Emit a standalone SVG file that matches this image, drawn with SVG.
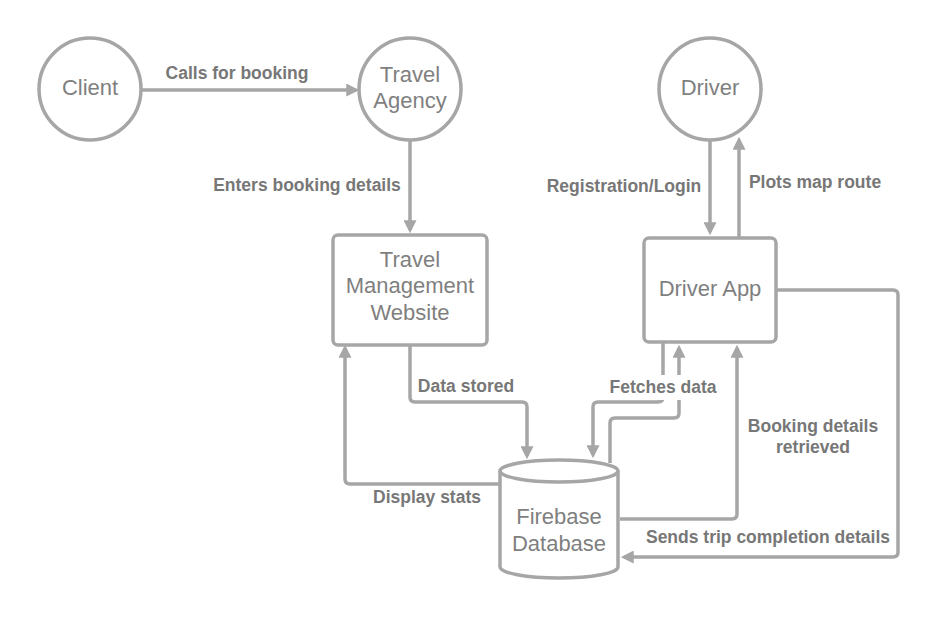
<svg xmlns="http://www.w3.org/2000/svg" width="942" height="620" viewBox="0 0 942 620">
<style>
.shape{fill:#fff;stroke:#a6a6a6;stroke-width:3.5}
.ntext{font-family:"Liberation Sans",Arial,sans-serif;font-size:22px;fill:#7f7f7f;text-anchor:middle}
.ltext{font-family:"Liberation Sans",Arial,sans-serif;font-size:17.5px;font-weight:bold;fill:#777;text-anchor:middle}
.conn{fill:none;stroke:#a6a6a6;stroke-width:3.5;marker-end:url(#arr)}
</style>
<defs>
<marker id="arr" viewBox="0 0 12 12" markerUnits="userSpaceOnUse" markerWidth="13" markerHeight="13" refX="9" refY="6" orient="auto">
<path d="M0,0 L12,6 L0,12 z" fill="#a6a6a6"/>
</marker>
</defs>
<rect width="942" height="620" fill="#fff"/>
<g id="connectors">
<path class="conn" d="M141,90 H356"/>
<path class="conn" d="M410,140 V230"/>
<path class="conn" d="M410,345 V397 Q410,402 415,402 H522 Q527,402 527,407 V456"/>
<path class="conn" d="M500,484 H350 Q345,484 345,479 V348"/>
<path class="conn" d="M663,342 V397 Q663,402 658,402 H598 Q593,402 593,407 V455"/>
<path class="conn" d="M610,463 V423 Q610,418 615,418 H674 Q679,418 679,413 V348"/>
<path class="conn" d="M620,519 H732 Q737,519 737,514 V348"/>
<path class="conn" d="M776,290 H893 Q898,290 898,295 V552 Q898,557 893,557 H624"/>
<path class="conn" d="M710,140 V232"/>
<path class="conn" d="M739,238 V140"/>
<rect x="606" y="375" width="114" height="25" fill="#fff"/>
<text class="ltext" x="237" y="79">Calls for booking</text>
<text class="ltext" x="307" y="191">Enters booking details</text>
<text class="ltext" x="466" y="392">Data stored</text>
<text class="ltext" x="427" y="503">Display stats</text>
<text class="ltext" x="663" y="393">Fetches data</text>
<text class="ltext" x="624" y="192">Registration/Login</text>
<text class="ltext" x="815" y="188">Plots map route</text>
<text class="ltext" x="813" y="432">Booking details</text>
<text class="ltext" x="813" y="453">retrieved</text>
<text class="ltext" x="768" y="543">Sends trip completion details</text>
</g>
<g id="client">
<circle class="shape" cx="90" cy="89" r="51"/>
<text class="ntext" x="90" y="95">Client</text>
</g>
<g id="travel-agency">
<circle class="shape" cx="410" cy="89" r="51"/>
<text class="ntext" x="410" y="82">Travel</text>
<text class="ntext" x="410" y="108">Agency</text>
</g>
<g id="driver">
<circle class="shape" cx="710" cy="89" r="51"/>
<text class="ntext" x="710" y="95">Driver</text>
</g>
<g id="travel-management-website">
<rect class="shape" x="333" y="235" width="154" height="110" rx="5"/>
<text class="ntext" x="410" y="267">Travel</text>
<text class="ntext" x="410" y="293">Management</text>
<text class="ntext" x="410" y="320">Website</text>
</g>
<g id="driver-app">
<rect class="shape" x="644" y="238" width="132" height="104" rx="5"/>
<text class="ntext" x="710" y="296">Driver App</text>
</g>
<g id="firebase-database">
<path class="shape" d="M500,471 V567 A59,11 0 0 0 618,567 V471"/>
<ellipse class="shape" cx="559" cy="471" rx="59" ry="11"/>
<text class="ntext" x="559" y="524">Firebase</text>
<text class="ntext" x="559" y="551">Database</text>
</g>
</svg>
